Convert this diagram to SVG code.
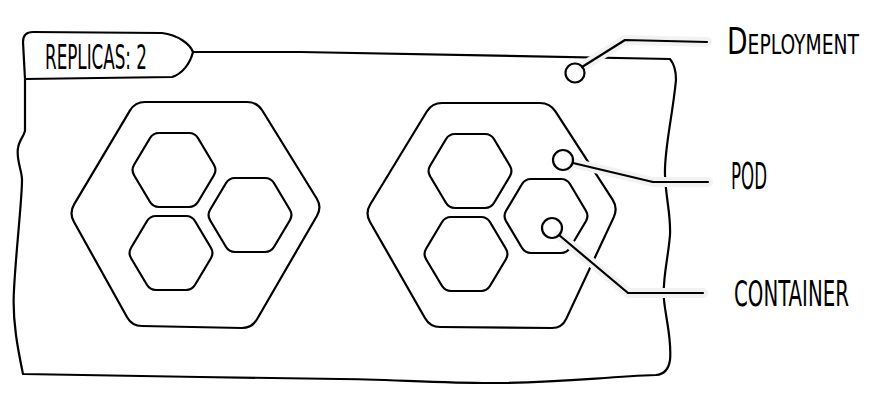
<svg xmlns="http://www.w3.org/2000/svg" xmlns:xlink="http://www.w3.org/1999/xlink" width="886" height="408" viewBox="0 0 886 408">
  <defs>
    <style>
      .ln { fill: none; stroke: #000; stroke-width: 2.2; stroke-linejoin: round; stroke-linecap: round; }
      .halo { fill: none; stroke: #f2f2f2; stroke-width: 10; stroke-linejoin: round; stroke-linecap: round; }
      .lbl { font-family: 'DejaVu Sans Condensed', 'DejaVu Sans', 'Liberation Sans', sans-serif; font-stretch: condensed; fill: #000; }
    </style>
    <path id="hex" d="M -15,-37 L 15,-37 Q 21,-37 24.1,-31.8 L 39.9,-5.2 Q 43,0 39.9,5.2 L 24.1,31.8 Q 21,37 15,37 L -15,37 Q -21,37 -24.1,31.8 L -39.9,5.2 Q -43,0 -39.9,-5.2 L -24.1,-31.8 Q -21,-37 -15,-37 Z"/>
  </defs>
  <rect width="886" height="408" fill="#fff"/>

  <g id="deployment">
    <path class="ln" d="M 193,52 L 300,52 L 670,59 Q 676,66 676,80 C 672,120 664,150 665,175 C 666,200 671,215 670,235 C 668,260 662,280 664,300 C 666,320 672,340 670,360 Q 668,374 656,375 C 600,377 560,383 490,383 C 440,383 380,379 340,379 L 200,377 L 23,374 C 18,350 12,320 14,290 C 16,250 22,200 22,180 C 22,170 16,160 18,148 C 19,140 25,135 25,130 L 25,79"/>
    <path class="ln" d="M 25,79 L 23,42 Q 23,32 33,32 L 162,33 C 178,35 190,44 193,52 C 190,64 182,74 172,77 L 25,79"/>
    <text class="lbl" transform="matrix(0.6,0,0,1,45,69)" font-size="34" textLength="170" lengthAdjust="spacingAndGlyphs">REPLICAS: 2</text>
  </g>

  <g id="pod-left">
    <path class="ln" d="M 145,102 L 247,102 Q 257,102 262.3,110.5 L 316.7,198.5 Q 322,207 317,215.7 L 257,319.3 Q 252,328 242,328 L 142,326 Q 132,326 127.1,317.2 L 73.9,221.8 Q 69,213 74.1,204.4 L 129.9,110.6 Q 135,102 145,102 Z"/>
    <g id="container-left-1"><use class="ln" xlink:href="#hex" transform="translate(174,170)"/></g>
    <g id="container-left-2"><use class="ln" xlink:href="#hex" transform="translate(171,253)"/></g>
    <g id="container-left-3"><use class="ln" xlink:href="#hex" transform="translate(250,215)"/></g>
  </g>

  <g id="pod-right">
    <path class="ln" d="M 442,103 L 540,103 Q 550,103 555.4,111.4 L 612.6,199.6 Q 618,208 613.8,217.1 L 566.2,318.9 Q 562,328 552,328 L 440,327 Q 430,327 425.1,318.3 L 369.9,221.7 Q 365,213 370.2,204.5 L 426.8,111.5 Q 432,103 442,103 Z"/>
    <g id="container-right-1"><use class="ln" xlink:href="#hex" transform="translate(470,171)"/></g>
    <g id="container-right-2"><use class="ln" xlink:href="#hex" transform="translate(466,254)"/></g>
    <g id="container-right-3"><use class="ln" xlink:href="#hex" transform="translate(546,216)"/></g>
  </g>

  <g id="connectors">
    <path class="halo" d="M 582,67 L 625,40 L 707,42"/>
    <path class="halo" d="M 573,163 L 653,182 L 708,182"/>
    <path class="halo" d="M 559,235 L 628,293 L 703,293"/>
    <path class="ln" d="M 582,67 L 625,40 L 707,42"/>
    <path class="ln" d="M 573,163 L 653,182 L 708,182"/>
    <path class="ln" d="M 559,235 L 628,293 L 703,293"/>
    <circle class="ln" cx="575" cy="73" r="9.5" fill="#fff"/>
    <circle class="ln" cx="563" cy="160" r="10"/>
    <circle class="ln" cx="552" cy="228" r="10"/>
  </g>

  <g id="label-deployment">
    <text class="lbl" transform="matrix(0.6,0,0,1,727,54)" font-size="38" font-variant="small-caps" textLength="220" lengthAdjust="spacingAndGlyphs">Deployment</text>
  </g>
  <g id="label-pod">
    <text class="lbl" transform="matrix(0.6,0,0,1,731,189)" font-size="37" textLength="60" lengthAdjust="spacingAndGlyphs">POD</text>
  </g>
  <g id="label-container">
    <text class="lbl" transform="matrix(0.6,0,0,1,734,306)" font-size="36" textLength="191.7" lengthAdjust="spacingAndGlyphs">CONTAINER</text>
  </g>
</svg>
